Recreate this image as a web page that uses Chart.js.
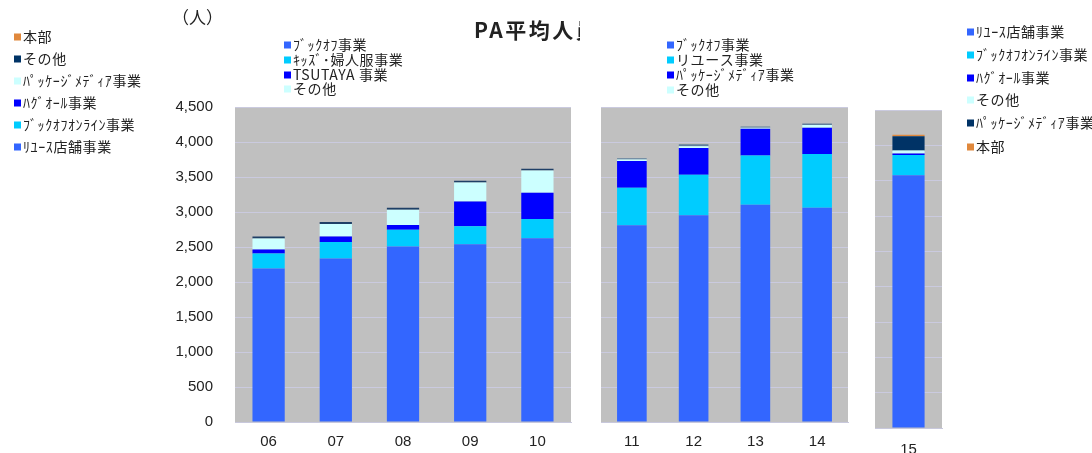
<!DOCTYPE html>
<html>
<head>
<meta charset="utf-8">
<script src="https://cdn.jsdelivr.net/npm/chart.js@4.4.1/dist/chart.umd.min.js"></script>
<style>
body { margin: 0; background: #fff; width: 1092px; height: 453px; position: relative; overflow: hidden; }
canvas { position: absolute; top: 0; }
</style>
</head>
<body>
<canvas id="c1" style="left:0" width="580" height="453"></canvas>
<canvas id="c2" style="left:580px" width="280" height="453"></canvas>
<canvas id="c3" style="left:860px" width="232" height="453"></canvas>
<script>
// panel 1 : 06-10
var years1 = ["06", "07", "08", "09", "10"];
var bookoff1 = [2193, 2335, 2506, 2539, 2625];
var kids1 = [214, 238, 242, 257, 275];
var tsutaya1 = [57, 76, 67, 355, 375];
var other1 = [156, 180, 218, 271, 318];
var top1 = [29, 29, 29, 24, 24];

// panel 2 : 11-14
var years2 = ["11", "12", "13", "14"];
var bookoff2 = [2815, 2957, 3109, 3066];
var reuse2 = [536, 579, 703, 769];
var package2 = [384, 385, 384, 376];
var other2 = [20, 24, 15, 37];
var top2 = [19, 28, 18, 24];

// panel 3 : 15
var years3 = ["15"];
var reuseStore3 = [3575];
var online3 = [287];
var hug3 = [24];
var other3 = [42];
var package3 = [202];
var hq3 = [18];

var yTicks = [0, 500, 1000, 1500, 2000, 2500, 3000, 3500, 4000, 4500];

// the loose legend at the far left
var sideLabels = ["本部", "その他", "ﾊﾟｯｹｰｼﾞﾒﾃﾞｨｱ事業", "ﾊｸﾞｵｰﾙ事業", "ﾌﾞｯｸｵﾌｵﾝﾗｲﾝ事業", "ﾘﾕｰｽ店舗事業"];
var sideColors = ["#E0883C", "#003366", "#CCFFFF", "#0000FF", "#00CCFF", "#3366FF"];

var JP = '"Noto Sans CJK JP", sans-serif';
var NUM = '"Liberation Sans", Arial, sans-serif';

function drawLegend(ctx, items, x, ys) {
  ctx.font = '14px ' + JP;
  ctx.letterSpacing = '0.6px';
  ctx.textBaseline = 'middle';
  ctx.textAlign = 'left';
  items.forEach(function (it, i) {
    ctx.fillStyle = it.color;
    ctx.fillRect(x, ys[i] - 3.5, 7, 7);
    ctx.fillStyle = '#222';
    ctx.fillText(it.label, x + 9, ys[i]);
  });
  ctx.letterSpacing = '0px';
}

var panelDeco = {
  id: 'panelDeco',
  beforeDraw: function (chart) {
    var ctx = chart.ctx, a = chart.chartArea;
    ctx.save();
    ctx.fillStyle = '#fff';
    ctx.fillRect(0, 0, chart.width, chart.height);
    ctx.fillStyle = '#C0C0C0';
    ctx.fillRect(a.left, a.top, a.right - a.left, a.bottom - a.top);
    ctx.restore();
  },
  afterDraw: function (chart, args, opts) {
    var ctx = chart.ctx;
    ctx.save();
    var items = chart.data.datasets.filter(function (d) { return !d.noLegend; })
      .map(function (d) { return { label: d.label, color: d.backgroundColor }; });
    if (opts.legendX !== undefined) drawLegend(ctx, items, opts.legendX, opts.legendY);
    if (opts.side) {
      drawLegend(ctx, sideLabels.map(function (l, i) { return { label: l, color: sideColors[i] }; }),
        14, [37, 59, 81, 103, 125, 147]);
    }
    (opts.texts || []).forEach(function (t) {
      ctx.font = t.font;
      ctx.letterSpacing = t.spacing || '0px';
      ctx.fillStyle = t.color || '#222';
      ctx.textAlign = 'left';
      ctx.textBaseline = 'middle';
      ctx.fillText(t.text, t.x, t.y);
    });
    ctx.restore();
  }
};

function ds(label, data, color, noLegend) {
  return {
    label: label, data: data, backgroundColor: color, borderWidth: 0,
    barPercentage: 0.48, categoryPercentage: 1, noLegend: !!noLegend
  };
}

function makeOptions(showY, pad, xHeight, labelPad, deco) {
  return {
    responsive: false,
    animation: false,
    layout: { padding: pad },
    plugins: { legend: { display: false }, tooltip: { enabled: false }, panelDeco: deco },
    scales: {
      x: {
        stacked: true,
        grid: { display: false, drawTicks: false },
        border: { display: true, color: '#C8C8DC' },
        ticks: { color: '#222', font: { family: NUM, size: 15 }, padding: labelPad },
        afterFit: function (s) { s.height = xHeight; }
      },
      y: {
        stacked: true,
        display: true,
        min: 0, max: 4500,
        afterBuildTicks: function (s) { s.ticks = yTicks.map(function (v) { return { value: v }; }); },
        grid: { color: '#CACADF', drawTicks: false },
        border: { display: false },
        ticks: {
          display: showY, color: '#222', padding: 22,
          font: { family: NUM, size: 15 },
          callback: function (v) { return v.toLocaleString('en-US'); }
        },
        afterFit: function (s) { s.width = showY ? 235 : 0; }
      }
    }
  };
}

new Chart(document.getElementById('c1'), {
  type: 'bar',
  data: {
    labels: years1,
    datasets: [
      ds('ﾌﾞｯｸｵﾌ事業', bookoff1, '#3366FF'),
      ds('ｷｯｽﾞ･婦人服事業', kids1, '#00CCFF'),
      ds('TSUTAYA 事業', tsutaya1, '#0000FF'),
      ds('その他', other1, '#CCFFFF'),
      ds('本部', top1, '#1F3F66', true)
    ]
  },
  options: makeOptions(true, { left: 0, right: 9, top: 107, bottom: 0 }, 30, 11, {
    legendX: 284, legendY: [45, 60, 75, 89], side: true,
    texts: [
      { text: '（人）', x: 172, y: 18, font: '17px ' + JP },
      { text: 'PA平均人員', x: 474, y: 30, font: 'bold 21px ' + JP, spacing: '2.5px' }
    ]
  }),
  plugins: [panelDeco]
});

new Chart(document.getElementById('c2'), {
  type: 'bar',
  data: {
    labels: years2,
    datasets: [
      ds('ﾌﾞｯｸｵﾌ事業', bookoff2, '#3366FF'),
      ds('リユース事業', reuse2, '#00CCFF'),
      ds('ﾊﾟｯｹｰｼﾞﾒﾃﾞｨｱ事業', package2, '#0000FF'),
      ds('その他', other2, '#CCFFFF'),
      ds('本部', top2, '#5F7F9C', true)
    ]
  },
  options: makeOptions(false, { left: 21, right: 12, top: 107.5, bottom: 0 }, 31, 11, {
    legendX: 87, legendY: [45, 60, 75, 90]
  }),
  plugins: [panelDeco]
});

new Chart(document.getElementById('c3'), {
  type: 'bar',
  data: {
    labels: years3,
    datasets: [
      ds('ﾘﾕｰｽ店舗事業', reuseStore3, '#3366FF'),
      ds('ﾌﾞｯｸｵﾌｵﾝﾗｲﾝ事業', online3, '#00CCFF'),
      ds('ﾊｸﾞｵｰﾙ事業', hug3, '#0000FF'),
      ds('その他', other3, '#CCFFFF'),
      ds('ﾊﾟｯｹｰｼﾞﾒﾃﾞｨｱ事業', package3, '#003366'),
      ds('本部', hq3, '#E0883C')
    ]
  },
  options: makeOptions(false, { left: 15, right: 150, top: 110, bottom: 0 }, 25, 13, {
    legendX: 107, legendY: [32, 55, 78, 100, 123, 147]
  }),
  plugins: [panelDeco]
});
</script>
</body>
</html>
